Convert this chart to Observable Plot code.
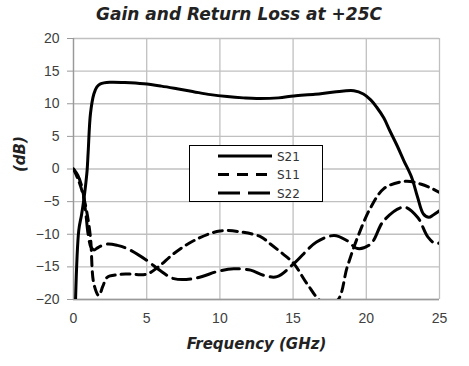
<!DOCTYPE html>
<html>
<head>
<meta charset="utf-8">
<script src="https://cdn.jsdelivr.net/npm/d3@7"></script>
<script src="https://cdn.jsdelivr.net/npm/@observablehq/plot@0.6"></script>
<style>
  html, body { margin: 0; padding: 0; background: #fff; }
  #wrap { position: relative; width: 469px; height: 366px; overflow: hidden; }
  #title { position: absolute; left: 0; top: 4px; width: 478px; text-align: center;
    font-family: "DejaVu Sans", sans-serif; font-weight: bold; font-style: italic; font-size: 17px; color: #222; }
  #chart { position: absolute; left: 0; top: 30px; }
  #legend { position: absolute; left: 189px; top: 145px; width: 134px; height: 57px;
    border: 1.5px solid #000; background: #fff; box-sizing: border-box; }
</style>
</head>
<body>
<div id="wrap">
  <div id="title">Gain and Return Loss at +25C</div>
  <div id="chart"></div>
  <div id="legend"></div>
</div>
<script>
// S21 (gain)
const s21Freq = [0.14,0.36,0.55,0.7,0.85,0.93,1.0,1.16,1.39,1.6,1.84,2.5,3.5,4.8,6,7.07,8.2,9.36,10.5,11.6,12.5,14,15.05,16.5,17.8,19.15,19.8,20.3,20.7,21.2,21.6,22.1,22.56,23.1,23.5,23.9,24.27,24.6,25];
const s21dB   = [-20,-9.4,-7,-4.8,-2,-0.2,2.5,8.5,11.5,12.6,13.06,13.3,13.25,13.06,12.7,12.3,11.85,11.4,11.1,10.9,10.8,10.9,11.2,11.45,11.8,12.0,11.5,10.6,9.5,7.8,5.9,3.6,1.3,-1.3,-4.3,-6.9,-7.4,-7.0,-6.4];
// S11 (input return loss)
const s11Freq = [0,0.3,0.6,0.9,1.16,1.39,1.73,2.0,2.3,3.0,3.67,5.0,5.8,6.83,8.2,10,11.6,12.8,13.45,14.3,15.05,15.96,17.0,18.0,18.7,19.4,20.3,21.2,22.3,23.0,23.7,24.4,25];
const s11dB   = [0,-1.5,-3.5,-6.5,-10.5,-17.6,-19.4,-18,-16.6,-16.2,-16.1,-16.1,-15,-13,-11,-9.5,-9.7,-10.4,-11.5,-13,-14.5,-17.6,-20.4,-20.2,-15,-10.5,-5.9,-3.0,-2.0,-1.9,-2.3,-2.9,-3.6];
// S22 (output return loss)
const s22Freq = [0,0.3,0.6,0.85,1.0,1.2,1.4,1.7,2.3,3.0,3.67,5.0,5.94,6.85,8.2,10,10.95,12.1,13.0,13.9,15.05,16.6,17.8,18.7,19.4,20.3,21.2,22.56,23.5,24.2,24.76,25];
const s22dB   = [0,-1,-3,-7,-10,-12,-12.4,-12,-11.5,-11.7,-12.2,-14,-15.6,-16.8,-16.8,-15.6,-15.3,-15.5,-16.3,-16.5,-14.5,-11.2,-10.2,-11,-12.2,-11.5,-7.9,-5.85,-7.4,-10.4,-11.5,-11.3];

const seriesNames = ["S21","S11","S22"];
const xTicks = [0,5,10,15,20,25];
const yTicks = [-20,-15,-10,-5,0,5,10,15,20];

const toRows = (fs, vs) => fs.map((f, i) => ({f, v: vs[i]}));
const rows21 = toRows(s21Freq, s21dB);
const rows11 = toRows(s11Freq, s11dB);
const rows22 = toRows(s22Freq, s22dB);

const dashes = {S21: null, S11: "9,6", S22: "18,7"};
const tickFont = "'Liberation Sans', sans-serif";

const chart = Plot.plot({
  width: 469,
  height: 336,
  marginTop: 8,
  marginLeft: 73,
  marginRight: 30,
  marginBottom: 67,
  style: {fontFamily: tickFont, fontSize: "14px", color: "#404040", background: "transparent"},
  x: {domain: [0, 25]},
  y: {domain: [-20, 20]},
  marks: [
    Plot.gridX(xTicks, {stroke: "#c0c0c0", strokeOpacity: 1, strokeWidth: 1.3}),
    Plot.gridY(yTicks, {stroke: "#c0c0c0", strokeOpacity: 1, strokeWidth: 1.3}),
    Plot.axisY(yTicks, {tickSize: 6, tickPadding: 8, stroke: "#999", label: null, fontSize: 14}),
    Plot.axisX(xTicks, {tickSize: 0, tickPadding: 14, label: null, fontSize: 14}),
    Plot.ruleX([0], {stroke: "#999", strokeWidth: 1.3}),
    Plot.ruleY([-20], {stroke: "#999", strokeWidth: 1.3}),
    Plot.line(rows11, {x: "f", y: "v", stroke: "#000", strokeWidth: 3, strokeDasharray: dashes.S11, curve: "catmull-rom", clip: true}),
    Plot.line(rows22, {x: "f", y: "v", stroke: "#000", strokeWidth: 3, strokeDasharray: dashes.S22, curve: "catmull-rom", clip: true}),
    Plot.line(rows21, {x: "f", y: "v", stroke: "#000", strokeWidth: 3, curve: "catmull-rom", clip: true}),
    Plot.text(["Frequency (GHz)"], {frameAnchor: "bottom", text: d => d, dy: 49, fontSize: 15, fontWeight: "bold", fontStyle: "italic", fontFamily: "'DejaVu Sans', sans-serif", fill: "#222"}),
    Plot.text(["(dB)"], {frameAnchor: "left", text: d => d, rotate: -90, dx: -53, dy: 3, fontSize: 15, fontWeight: "bold", fontStyle: "italic", fontFamily: "'DejaVu Sans', sans-serif", fill: "#222"})
  ]
});
document.getElementById("chart").appendChild(chart);

// legend
const lg = d3.select("#legend").append("svg").attr("width", 132).attr("height", 55);
seriesNames.forEach((name, i) => {
  const y = 10 + i * 18.5;
  lg.append("line").attr("x1", 28).attr("x2", 82).attr("y1", y).attr("y2", y)
    .attr("stroke", "#000").attr("stroke-width", 3)
    .attr("stroke-dasharray", name === "S11" ? "11,8" : name === "S22" ? "22,8" : null);
  lg.append("text").attr("x", 87).attr("y", y + 4.5).text(name)
    .attr("font-family", "'DejaVu Sans', sans-serif").attr("font-size", 12).attr("fill", "#333");
});
</script>
</body>
</html>
